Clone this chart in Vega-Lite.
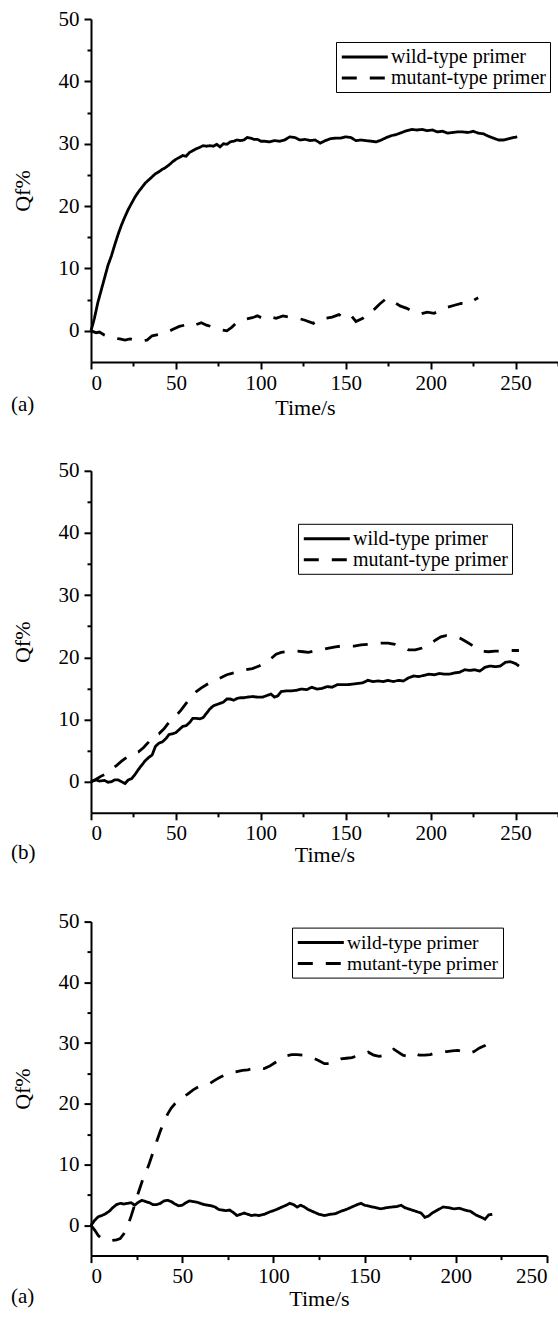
{
"$schema": "https://vega.github.io/schema/vega-lite/v6.json",
"background": "white",
"padding": {"left": 11, "top": 8, "right": 0, "bottom": 0},
"spacing": 108.8,
"bounds": "flush",
"resolve": {"scale": {"strokeDash": "independent", "x": "independent", "y": "independent"}, "legend": {"strokeDash": "independent"}},
"datasets": {
"p1": [
{"t":0,"q":0,"s":"W"},{"t":2,"q":2,"s":"W"},{"t":4,"q":4.5,"s":"W"},{"t":6,"q":6.5,"s":"W"},{"t":8,"q":8.5,"s":"W"},{"t":10,"q":10.5,"s":"W"},{"t":12,"q":12,"s":"W"},{"t":14,"q":13.8,"s":"W"},{"t":16,"q":15.5,"s":"W"},{"t":18,"q":17,"s":"W"},{"t":20,"q":18.3,"s":"W"},{"t":22,"q":19.5,"s":"W"},{"t":24,"q":20.5,"s":"W"},{"t":26,"q":21.5,"s":"W"},{"t":28,"q":22.3,"s":"W"},{"t":30,"q":23,"s":"W"},{"t":32,"q":23.7,"s":"W"},{"t":34,"q":24.2,"s":"W"},{"t":36,"q":24.7,"s":"W"},{"t":38,"q":25.2,"s":"W"},{"t":40,"q":25.5,"s":"W"},{"t":42,"q":25.9,"s":"W"},{"t":44,"q":26.2,"s":"W"},{"t":46,"q":26.6,"s":"W"},{"t":48,"q":27.1,"s":"W"},{"t":50,"q":27.5,"s":"W"},{"t":52,"q":27.8,"s":"W"},{"t":54,"q":28.1,"s":"W"},{"t":56,"q":28,"s":"W"},{"t":58,"q":28.6,"s":"W"},{"t":60,"q":28.9,"s":"W"},{"t":62,"q":29.2,"s":"W"},{"t":64,"q":29.4,"s":"W"},{"t":66,"q":29.7,"s":"W"},{"t":68,"q":29.6,"s":"W"},{"t":70,"q":29.7,"s":"W"},{"t":72,"q":29.6,"s":"W"},{"t":74,"q":29.9,"s":"W"},{"t":76,"q":29.5,"s":"W"},{"t":78,"q":30,"s":"W"},{"t":80,"q":29.9,"s":"W"},{"t":82,"q":30.3,"s":"W"},{"t":84,"q":30.4,"s":"W"},{"t":86,"q":30.6,"s":"W"},{"t":88,"q":30.5,"s":"W"},{"t":90,"q":30.6,"s":"W"},{"t":92,"q":31,"s":"W"},{"t":94,"q":30.9,"s":"W"},{"t":96,"q":30.7,"s":"W"},{"t":98,"q":30.7,"s":"W"},{"t":100,"q":30.4,"s":"W"},{"t":102,"q":30.4,"s":"W"},{"t":105,"q":30.3,"s":"W"},{"t":108,"q":30.5,"s":"W"},{"t":111,"q":30.4,"s":"W"},{"t":114,"q":30.6,"s":"W"},{"t":117,"q":31.1,"s":"W"},{"t":120,"q":31,"s":"W"},{"t":123,"q":30.6,"s":"W"},{"t":126,"q":30.7,"s":"W"},{"t":129,"q":30.5,"s":"W"},{"t":132,"q":30.6,"s":"W"},{"t":135,"q":30.1,"s":"W"},{"t":138,"q":30.5,"s":"W"},{"t":141,"q":30.8,"s":"W"},{"t":144,"q":30.9,"s":"W"},{"t":147,"q":30.9,"s":"W"},{"t":150,"q":31.1,"s":"W"},{"t":153,"q":31,"s":"W"},{"t":156,"q":30.5,"s":"W"},{"t":159,"q":30.6,"s":"W"},{"t":162,"q":30.5,"s":"W"},{"t":165,"q":30.4,"s":"W"},{"t":168,"q":30.3,"s":"W"},{"t":171,"q":30.6,"s":"W"},{"t":174,"q":31,"s":"W"},{"t":177,"q":31.3,"s":"W"},{"t":180,"q":31.5,"s":"W"},{"t":183,"q":31.8,"s":"W"},{"t":186,"q":32.1,"s":"W"},{"t":189,"q":32.3,"s":"W"},{"t":192,"q":32.2,"s":"W"},{"t":195,"q":32.3,"s":"W"},{"t":198,"q":32.1,"s":"W"},{"t":201,"q":32.2,"s":"W"},{"t":204,"q":31.9,"s":"W"},{"t":207,"q":32,"s":"W"},{"t":210,"q":31.7,"s":"W"},{"t":213,"q":31.8,"s":"W"},{"t":216,"q":31.9,"s":"W"},{"t":219,"q":31.9,"s":"W"},{"t":222,"q":31.8,"s":"W"},{"t":225,"q":32,"s":"W"},{"t":228,"q":31.7,"s":"W"},{"t":231,"q":31.6,"s":"W"},{"t":234,"q":31.2,"s":"W"},{"t":237,"q":30.9,"s":"W"},{"t":240,"q":30.6,"s":"W"},{"t":243,"q":30.6,"s":"W"},{"t":246,"q":30.8,"s":"W"},{"t":249,"q":31,"s":"W"},{"t":251,"q":31.1,"s":"W"},
{"t":0,"q":0,"s":"M"},{"t":3,"q":-0.3,"s":"M"},{"t":5,"q":-0.2,"s":"M"},{"t":8,"q":-0.7,"s":"M"},{"t":12,"q":-1.1,"s":"M"},{"t":17,"q":-1.3,"s":"M"},{"t":20,"q":-1.5,"s":"M"},{"t":23,"q":-1.3,"s":"M"},{"t":26,"q":-1.5,"s":"M"},{"t":30,"q":-1.6,"s":"M"},{"t":33,"q":-1.5,"s":"M"},{"t":36,"q":-0.8,"s":"M"},{"t":40,"q":-0.6,"s":"M"},{"t":44,"q":-0.3,"s":"M"},{"t":48,"q":0.2,"s":"M"},{"t":52,"q":0.7,"s":"M"},{"t":55,"q":0.9,"s":"M"},{"t":58,"q":0.6,"s":"M"},{"t":62,"q":1.0,"s":"M"},{"t":65,"q":1.3,"s":"M"},{"t":68,"q":0.9,"s":"M"},{"t":72,"q":0.6,"s":"M"},{"t":76,"q":0.2,"s":"M"},{"t":80,"q":0.0,"s":"M"},{"t":83,"q":0.6,"s":"M"},{"t":86,"q":1.4,"s":"M"},{"t":90,"q":1.8,"s":"M"},{"t":95,"q":2.1,"s":"M"},{"t":98,"q":2.4,"s":"M"},{"t":101,"q":2.0,"s":"M"},{"t":105,"q":2.3,"s":"M"},{"t":109,"q":2.0,"s":"M"},{"t":113,"q":2.4,"s":"M"},{"t":118,"q":2.1,"s":"M"},{"t":122,"q":2.0,"s":"M"},{"t":126,"q":1.7,"s":"M"},{"t":131,"q":1.2,"s":"M"},{"t":134,"q":1.8,"s":"M"},{"t":138,"q":2.0,"s":"M"},{"t":142,"q":2.2,"s":"M"},{"t":146,"q":2.6,"s":"M"},{"t":149,"q":2.1,"s":"M"},{"t":153,"q":2.5,"s":"M"},{"t":156,"q":1.5,"s":"M"},{"t":160,"q":2.0,"s":"M"},{"t":163,"q":3.0,"s":"M"},{"t":167,"q":3.5,"s":"M"},{"t":170,"q":4.3,"s":"M"},{"t":174,"q":5.2,"s":"M"},{"t":178,"q":4.7,"s":"M"},{"t":182,"q":4.0,"s":"M"},{"t":186,"q":3.6,"s":"M"},{"t":190,"q":3.0,"s":"M"},{"t":194,"q":2.7,"s":"M"},{"t":198,"q":3.0,"s":"M"},{"t":202,"q":2.8,"s":"M"},{"t":206,"q":3.3,"s":"M"},{"t":210,"q":3.8,"s":"M"},{"t":214,"q":4.1,"s":"M"},{"t":218,"q":4.4,"s":"M"},{"t":222,"q":4.3,"s":"M"},{"t":226,"q":5.0,"s":"M"},{"t":228,"q":5.3,"s":"M"}
],
"p2": [
{"t":0,"q":0,"s":"W"},{"t":3,"q":0.3,"s":"W"},{"t":5,"q":0.1,"s":"W"},{"t":8,"q":0.2,"s":"W"},{"t":10,"q":-0.1,"s":"W"},{"t":12,"q":0.0,"s":"W"},{"t":14,"q":0.3,"s":"W"},{"t":16,"q":0.3,"s":"W"},{"t":18,"q":0.0,"s":"W"},{"t":20,"q":-0.3,"s":"W"},{"t":22,"q":0.3,"s":"W"},{"t":24,"q":0.5,"s":"W"},{"t":26,"q":1.2,"s":"W"},{"t":28,"q":2.0,"s":"W"},{"t":30,"q":2.7,"s":"W"},{"t":32,"q":3.4,"s":"W"},{"t":34,"q":3.9,"s":"W"},{"t":36,"q":4.3,"s":"W"},{"t":38,"q":5.7,"s":"W"},{"t":40,"q":6.2,"s":"W"},{"t":42,"q":6.4,"s":"W"},{"t":44,"q":6.9,"s":"W"},{"t":46,"q":7.6,"s":"W"},{"t":48,"q":7.7,"s":"W"},{"t":50,"q":7.9,"s":"W"},{"t":52,"q":8.4,"s":"W"},{"t":54,"q":8.9,"s":"W"},{"t":56,"q":9.0,"s":"W"},{"t":58,"q":9.5,"s":"W"},{"t":60,"q":10.2,"s":"W"},{"t":62,"q":10.2,"s":"W"},{"t":64,"q":10.1,"s":"W"},{"t":66,"q":10.3,"s":"W"},{"t":68,"q":11.0,"s":"W"},{"t":70,"q":11.7,"s":"W"},{"t":72,"q":12.2,"s":"W"},{"t":74,"q":12.4,"s":"W"},{"t":76,"q":12.6,"s":"W"},{"t":78,"q":12.8,"s":"W"},{"t":80,"q":13.3,"s":"W"},{"t":82,"q":13.3,"s":"W"},{"t":84,"q":13.1,"s":"W"},{"t":86,"q":13.4,"s":"W"},{"t":88,"q":13.5,"s":"W"},{"t":90,"q":13.5,"s":"W"},{"t":92,"q":13.6,"s":"W"},{"t":95,"q":13.7,"s":"W"},{"t":98,"q":13.6,"s":"W"},{"t":101,"q":13.6,"s":"W"},{"t":104,"q":13.9,"s":"W"},{"t":106,"q":14.1,"s":"W"},{"t":108,"q":13.6,"s":"W"},{"t":110,"q":13.8,"s":"W"},{"t":112,"q":14.5,"s":"W"},{"t":115,"q":14.6,"s":"W"},{"t":118,"q":14.6,"s":"W"},{"t":121,"q":14.7,"s":"W"},{"t":124,"q":14.9,"s":"W"},{"t":127,"q":14.8,"s":"W"},{"t":130,"q":15.2,"s":"W"},{"t":133,"q":14.9,"s":"W"},{"t":136,"q":15.0,"s":"W"},{"t":139,"q":15.3,"s":"W"},{"t":142,"q":15.2,"s":"W"},{"t":145,"q":15.6,"s":"W"},{"t":148,"q":15.6,"s":"W"},{"t":151,"q":15.6,"s":"W"},{"t":154,"q":15.7,"s":"W"},{"t":157,"q":15.8,"s":"W"},{"t":160,"q":15.9,"s":"W"},{"t":163,"q":16.3,"s":"W"},{"t":166,"q":16.1,"s":"W"},{"t":169,"q":16.2,"s":"W"},{"t":172,"q":16.1,"s":"W"},{"t":175,"q":16.3,"s":"W"},{"t":178,"q":16.1,"s":"W"},{"t":181,"q":16.3,"s":"W"},{"t":184,"q":16.2,"s":"W"},{"t":187,"q":16.7,"s":"W"},{"t":190,"q":17.0,"s":"W"},{"t":193,"q":16.9,"s":"W"},{"t":196,"q":17.1,"s":"W"},{"t":199,"q":17.3,"s":"W"},{"t":202,"q":17.2,"s":"W"},{"t":205,"q":17.4,"s":"W"},{"t":208,"q":17.3,"s":"W"},{"t":211,"q":17.3,"s":"W"},{"t":214,"q":17.5,"s":"W"},{"t":217,"q":17.6,"s":"W"},{"t":220,"q":18.0,"s":"W"},{"t":223,"q":17.9,"s":"W"},{"t":226,"q":18.0,"s":"W"},{"t":229,"q":17.8,"s":"W"},{"t":232,"q":18.4,"s":"W"},{"t":235,"q":18.6,"s":"W"},{"t":238,"q":18.5,"s":"W"},{"t":241,"q":18.6,"s":"W"},{"t":244,"q":19.2,"s":"W"},{"t":247,"q":19.3,"s":"W"},{"t":250,"q":19.0,"s":"W"},{"t":252,"q":18.6,"s":"W"},
{"t":0,"q":0,"s":"M"},{"t":3,"q":0.4,"s":"M"},{"t":6,"q":0.9,"s":"M"},{"t":9,"q":1.3,"s":"M"},{"t":12,"q":2.0,"s":"M"},{"t":15,"q":2.6,"s":"M"},{"t":18,"q":3.3,"s":"M"},{"t":20,"q":3.7,"s":"M"},{"t":23,"q":4.3,"s":"M"},{"t":26,"q":4.6,"s":"M"},{"t":28,"q":4.8,"s":"M"},{"t":31,"q":5.5,"s":"M"},{"t":34,"q":6.4,"s":"M"},{"t":37,"q":7.4,"s":"M"},{"t":40,"q":7.7,"s":"M"},{"t":43,"q":8.5,"s":"M"},{"t":46,"q":9.6,"s":"M"},{"t":50,"q":10.6,"s":"M"},{"t":53,"q":11.5,"s":"M"},{"t":56,"q":12.6,"s":"M"},{"t":59,"q":13.6,"s":"M"},{"t":62,"q":14.5,"s":"M"},{"t":65,"q":15.1,"s":"M"},{"t":68,"q":15.6,"s":"M"},{"t":71,"q":16.1,"s":"M"},{"t":74,"q":16.4,"s":"M"},{"t":77,"q":16.8,"s":"M"},{"t":80,"q":17.2,"s":"M"},{"t":84,"q":17.5,"s":"M"},{"t":88,"q":17.8,"s":"M"},{"t":91,"q":18.0,"s":"M"},{"t":95,"q":18.2,"s":"M"},{"t":99,"q":18.6,"s":"M"},{"t":103,"q":19.2,"s":"M"},{"t":106,"q":19.8,"s":"M"},{"t":109,"q":20.5,"s":"M"},{"t":112,"q":20.8,"s":"M"},{"t":115,"q":20.9,"s":"M"},{"t":118,"q":20.9,"s":"M"},{"t":121,"q":21.0,"s":"M"},{"t":125,"q":20.9,"s":"M"},{"t":128,"q":20.8,"s":"M"},{"t":131,"q":21.0,"s":"M"},{"t":134,"q":21.2,"s":"M"},{"t":137,"q":21.3,"s":"M"},{"t":140,"q":21.5,"s":"M"},{"t":144,"q":21.7,"s":"M"},{"t":147,"q":21.8,"s":"M"},{"t":151,"q":21.8,"s":"M"},{"t":155,"q":21.8,"s":"M"},{"t":159,"q":22.0,"s":"M"},{"t":163,"q":22.1,"s":"M"},{"t":167,"q":22.2,"s":"M"},{"t":171,"q":22.3,"s":"M"},{"t":175,"q":22.3,"s":"M"},{"t":179,"q":22.1,"s":"M"},{"t":183,"q":21.7,"s":"M"},{"t":187,"q":21.2,"s":"M"},{"t":191,"q":21.2,"s":"M"},{"t":195,"q":21.5,"s":"M"},{"t":199,"q":22.0,"s":"M"},{"t":203,"q":22.8,"s":"M"},{"t":206,"q":23.3,"s":"M"},{"t":209,"q":23.5,"s":"M"},{"t":212,"q":23.4,"s":"M"},{"t":215,"q":23.3,"s":"M"},{"t":218,"q":23.0,"s":"M"},{"t":221,"q":22.5,"s":"M"},{"t":224,"q":22.0,"s":"M"},{"t":227,"q":21.3,"s":"M"},{"t":230,"q":21.0,"s":"M"},{"t":234,"q":20.9,"s":"M"},{"t":238,"q":21.0,"s":"M"},{"t":242,"q":21.0,"s":"M"},{"t":246,"q":21.1,"s":"M"},{"t":250,"q":21.1,"s":"M"},{"t":252,"q":21.1,"s":"M"}
],
"p3": [
{"t":0,"q":0,"s":"W"},{"t":2,"q":0.8,"s":"W"},{"t":4,"q":1.4,"s":"W"},{"t":6,"q":1.6,"s":"W"},{"t":8,"q":1.9,"s":"W"},{"t":10,"q":2.3,"s":"W"},{"t":12,"q":2.9,"s":"W"},{"t":14,"q":3.4,"s":"W"},{"t":16,"q":3.6,"s":"W"},{"t":18,"q":3.5,"s":"W"},{"t":20,"q":3.6,"s":"W"},{"t":22,"q":3.7,"s":"W"},{"t":24,"q":3.3,"s":"W"},{"t":26,"q":3.8,"s":"W"},{"t":28,"q":4.1,"s":"W"},{"t":30,"q":3.9,"s":"W"},{"t":32,"q":3.7,"s":"W"},{"t":34,"q":3.4,"s":"W"},{"t":36,"q":3.4,"s":"W"},{"t":38,"q":3.6,"s":"W"},{"t":40,"q":4.0,"s":"W"},{"t":42,"q":4.1,"s":"W"},{"t":44,"q":3.9,"s":"W"},{"t":46,"q":3.5,"s":"W"},{"t":48,"q":3.2,"s":"W"},{"t":50,"q":3.3,"s":"W"},{"t":52,"q":3.7,"s":"W"},{"t":54,"q":4.0,"s":"W"},{"t":56,"q":3.9,"s":"W"},{"t":58,"q":3.8,"s":"W"},{"t":60,"q":3.6,"s":"W"},{"t":62,"q":3.4,"s":"W"},{"t":64,"q":3.3,"s":"W"},{"t":66,"q":3.2,"s":"W"},{"t":68,"q":3.0,"s":"W"},{"t":70,"q":2.6,"s":"W"},{"t":72,"q":2.5,"s":"W"},{"t":74,"q":2.4,"s":"W"},{"t":76,"q":2.5,"s":"W"},{"t":78,"q":2.1,"s":"W"},{"t":80,"q":1.6,"s":"W"},{"t":82,"q":1.8,"s":"W"},{"t":84,"q":2.0,"s":"W"},{"t":86,"q":1.8,"s":"W"},{"t":88,"q":1.6,"s":"W"},{"t":90,"q":1.7,"s":"W"},{"t":92,"q":1.6,"s":"W"},{"t":95,"q":1.8,"s":"W"},{"t":98,"q":2.2,"s":"W"},{"t":101,"q":2.5,"s":"W"},{"t":104,"q":2.9,"s":"W"},{"t":107,"q":3.3,"s":"W"},{"t":109,"q":3.6,"s":"W"},{"t":111,"q":3.4,"s":"W"},{"t":113,"q":3.0,"s":"W"},{"t":115,"q":3.3,"s":"W"},{"t":117,"q":3.0,"s":"W"},{"t":119,"q":2.6,"s":"W"},{"t":122,"q":2.2,"s":"W"},{"t":125,"q":1.8,"s":"W"},{"t":128,"q":1.6,"s":"W"},{"t":131,"q":1.8,"s":"W"},{"t":134,"q":1.9,"s":"W"},{"t":137,"q":2.3,"s":"W"},{"t":140,"q":2.6,"s":"W"},{"t":143,"q":3.0,"s":"W"},{"t":146,"q":3.4,"s":"W"},{"t":148,"q":3.6,"s":"W"},{"t":150,"q":3.3,"s":"W"},{"t":153,"q":3.1,"s":"W"},{"t":156,"q":2.9,"s":"W"},{"t":159,"q":2.7,"s":"W"},{"t":162,"q":2.9,"s":"W"},{"t":165,"q":3.0,"s":"W"},{"t":168,"q":3.1,"s":"W"},{"t":170,"q":3.3,"s":"W"},{"t":172,"q":2.9,"s":"W"},{"t":175,"q":2.6,"s":"W"},{"t":178,"q":2.3,"s":"W"},{"t":181,"q":2.0,"s":"W"},{"t":183,"q":1.3,"s":"W"},{"t":185,"q":1.5,"s":"W"},{"t":187,"q":2.0,"s":"W"},{"t":190,"q":2.5,"s":"W"},{"t":193,"q":3.0,"s":"W"},{"t":196,"q":2.9,"s":"W"},{"t":199,"q":2.7,"s":"W"},{"t":202,"q":2.8,"s":"W"},{"t":205,"q":2.5,"s":"W"},{"t":208,"q":2.3,"s":"W"},{"t":211,"q":1.7,"s":"W"},{"t":214,"q":1.3,"s":"W"},{"t":216,"q":1.0,"s":"W"},{"t":218,"q":1.7,"s":"W"},{"t":220,"q":1.8,"s":"W"},
{"t":0,"q":0,"s":"M"},{"t":2,"q":-0.8,"s":"M"},{"t":4,"q":-1.7,"s":"M"},{"t":6,"q":-2.2,"s":"M"},{"t":8,"q":-2.4,"s":"M"},{"t":11,"q":-2.5,"s":"M"},{"t":14,"q":-2.4,"s":"M"},{"t":16,"q":-2.2,"s":"M"},{"t":18,"q":-1.4,"s":"M"},{"t":20,"q":-0.2,"s":"M"},{"t":22,"q":1.5,"s":"M"},{"t":24,"q":3.4,"s":"M"},{"t":26,"q":5.4,"s":"M"},{"t":28,"q":7.2,"s":"M"},{"t":30,"q":8.6,"s":"M"},{"t":32,"q":10.2,"s":"M"},{"t":34,"q":12.0,"s":"M"},{"t":36,"q":13.8,"s":"M"},{"t":38,"q":15.5,"s":"M"},{"t":40,"q":17.0,"s":"M"},{"t":42,"q":18.3,"s":"M"},{"t":44,"q":19.3,"s":"M"},{"t":46,"q":20.0,"s":"M"},{"t":48,"q":20.5,"s":"M"},{"t":50,"q":21.0,"s":"M"},{"t":53,"q":21.6,"s":"M"},{"t":56,"q":22.3,"s":"M"},{"t":59,"q":22.8,"s":"M"},{"t":62,"q":23.0,"s":"M"},{"t":65,"q":23.3,"s":"M"},{"t":68,"q":23.9,"s":"M"},{"t":71,"q":24.4,"s":"M"},{"t":74,"q":24.8,"s":"M"},{"t":77,"q":25.2,"s":"M"},{"t":80,"q":25.3,"s":"M"},{"t":83,"q":25.5,"s":"M"},{"t":86,"q":25.6,"s":"M"},{"t":89,"q":25.8,"s":"M"},{"t":92,"q":26.0,"s":"M"},{"t":95,"q":25.8,"s":"M"},{"t":98,"q":26.2,"s":"M"},{"t":101,"q":26.8,"s":"M"},{"t":104,"q":27.3,"s":"M"},{"t":107,"q":27.9,"s":"M"},{"t":110,"q":28.1,"s":"M"},{"t":113,"q":28.1,"s":"M"},{"t":116,"q":28.0,"s":"M"},{"t":119,"q":27.8,"s":"M"},{"t":122,"q":27.5,"s":"M"},{"t":125,"q":27.1,"s":"M"},{"t":128,"q":26.6,"s":"M"},{"t":131,"q":26.6,"s":"M"},{"t":134,"q":27.1,"s":"M"},{"t":137,"q":27.4,"s":"M"},{"t":140,"q":27.5,"s":"M"},{"t":143,"q":27.6,"s":"M"},{"t":146,"q":27.9,"s":"M"},{"t":149,"q":28.1,"s":"M"},{"t":152,"q":28.5,"s":"M"},{"t":155,"q":28.0,"s":"M"},{"t":158,"q":27.8,"s":"M"},{"t":161,"q":28.0,"s":"M"},{"t":164,"q":28.5,"s":"M"},{"t":166,"q":29.0,"s":"M"},{"t":168,"q":28.6,"s":"M"},{"t":171,"q":28.0,"s":"M"},{"t":174,"q":27.8,"s":"M"},{"t":177,"q":28.3,"s":"M"},{"t":180,"q":28.0,"s":"M"},{"t":183,"q":28.0,"s":"M"},{"t":186,"q":28.1,"s":"M"},{"t":189,"q":28.4,"s":"M"},{"t":192,"q":28.5,"s":"M"},{"t":195,"q":28.6,"s":"M"},{"t":198,"q":28.7,"s":"M"},{"t":201,"q":28.8,"s":"M"},{"t":204,"q":28.6,"s":"M"},{"t":207,"q":28.3,"s":"M"},{"t":210,"q":28.6,"s":"M"},{"t":213,"q":29.2,"s":"M"},{"t":216,"q":29.6,"s":"M"},{"t":218,"q":30.0,"s":"M"},{"t":220,"q":30.2,"s":"M"}
]
},
"vconcat": [
{
"width": 467, "height": 343,
"data": {"name": "p1"},
"title": {"text": "(a)", "orient": "bottom", "anchor": "start", "frame": "bounds", "offset": -24},
"mark": {"type": "line", "color": "black", "strokeWidth": 2.8},
"encoding": {
"x": {"field": "t", "type": "quantitative", "scale": {"domain": [0, 275], "nice": false, "zero": false},
 "axis": {"title": "Time/s", "titleX": 214, "titlePadding": 4, "values": [0,25,50,75,100,125,150,175,200,225,250,275], "labelExpr": "datum.value % 50 === 0 ? datum.label : ''", "tickSize": {"condition": {"test": "datum.value % 50 === 0", "value": 7}, "value": 4}, "labelPadding": 3}},
"y": {"field": "q", "type": "quantitative", "scale": {"domain": [-5, 50], "nice": false, "zero": false},
 "axis": {"title": "Qf%", "titlePadding": 24, "values": [0,5,10,15,20,25,30,35,40,45,50], "labelExpr": "datum.value % 10 === 0 ? datum.label : ''", "tickSize": {"condition": {"test": "datum.value % 10 === 0", "value": 7}, "value": 4}, "labelPadding": 5}},
"strokeDash": {"field": "s", "type": "nominal", "scale": {"domain": ["W", "M"], "range": [[1, 0], [15, 13]]},
 "legend": {"title": null, "orient": "none", "legendX": 245, "legendY": 23, "labelExpr": "datum.value === 'W' ? 'wild-type primer' : 'mutant-type primer'", "labelFontSize": 20,
  "encode": {"symbols": {"update": {"strokeDash": {"signal": "datum.value === 'W' ? [1,0] : [13,20]"}, "fill": {"value": "transparent"}}}}}}
}
},
{
"width": 467, "height": 342,
"data": {"name": "p2"},
"title": {"text": "(b)", "orient": "bottom", "anchor": "start", "frame": "bounds", "offset": -24},
"mark": {"type": "line", "color": "black", "strokeWidth": 2.8},
"encoding": {
"x": {"field": "t", "type": "quantitative", "scale": {"domain": [0, 275], "nice": false, "zero": false},
 "axis": {"title": "Time/s", "titlePadding": 1, "values": [0,25,50,75,100,125,150,175,200,225,250,275], "labelExpr": "datum.value % 50 === 0 ? datum.label : ''", "tickSize": {"condition": {"test": "datum.value % 50 === 0", "value": 7}, "value": 4}, "labelPadding": 3}},
"y": {"field": "q", "type": "quantitative", "scale": {"domain": [-5, 50], "nice": false, "zero": false},
 "axis": {"title": "Qf%", "titlePadding": 24, "values": [0,5,10,15,20,25,30,35,40,45,50], "labelExpr": "datum.value % 10 === 0 ? datum.label : ''", "tickSize": {"condition": {"test": "datum.value % 10 === 0", "value": 7}, "value": 4}, "labelPadding": 5}},
"strokeDash": {"field": "s", "type": "nominal", "scale": {"domain": ["W", "M"], "range": [[1, 0], [15, 13]]},
 "legend": {"title": null, "orient": "none", "legendX": 207, "legendY": 53, "labelExpr": "datum.value === 'W' ? 'wild-type primer' : 'mutant-type primer'", "labelFontSize": 20,
  "encode": {"symbols": {"update": {"strokeDash": {"signal": "datum.value === 'W' ? [1,0] : [13,20]"}, "fill": {"value": "transparent"}}}}}}
}
},
{
"width": 456, "height": 334,
"data": {"name": "p3"},
"title": {"text": "(a)", "orient": "bottom", "anchor": "start", "frame": "bounds", "offset": -24},
"mark": {"type": "line", "color": "black", "strokeWidth": 2.8},
"encoding": {
"x": {"field": "t", "type": "quantitative", "scale": {"domain": [0, 250], "nice": false, "zero": false},
 "axis": {"title": "Time/s", "titlePadding": 2, "values": [0,25,50,75,100,125,150,175,200,225,250], "labelExpr": "datum.value % 50 === 0 ? datum.label : ''", "tickSize": {"condition": {"test": "datum.value % 50 === 0", "value": 7}, "value": 4}, "labelPadding": 3}},
"y": {"field": "q", "type": "quantitative", "scale": {"domain": [-5, 50], "nice": false, "zero": false},
 "axis": {"title": "Qf%", "titlePadding": 24, "values": [0,5,10,15,20,25,30,35,40,45,50], "labelExpr": "datum.value % 10 === 0 ? datum.label : ''", "tickSize": {"condition": {"test": "datum.value % 10 === 0", "value": 7}, "value": 4}, "labelPadding": 5}},
"strokeDash": {"field": "s", "type": "nominal", "scale": {"domain": ["W", "M"], "range": [[1, 0], [15, 13]]},
 "legend": {"title": null, "orient": "none", "legendX": 201, "legendY": 6, "labelExpr": "datum.value === 'W' ? 'wild-type primer' : 'mutant-type primer'", "labelFontSize": 19.5,
  "encode": {"symbols": {"update": {"strokeDash": {"signal": "datum.value === 'W' ? [1,0] : [13,20]"}, "fill": {"value": "transparent"}}}}}}
}
}
],
"config": {
"font": "Liberation Serif",
"view": {"stroke": null},
"axis": {"domainColor": "black", "domainWidth": 2, "tickColor": "black", "tickWidth": 2, "grid": false,
 "labelFont": "Liberation Serif", "labelFontSize": 21, "labelColor": "black",
 "titleFont": "Liberation Serif", "titleFontSize": 22, "titleFontWeight": "normal", "titleColor": "black"},
"legend": {"strokeColor": "black", "fillColor": "white", "padding": 4, "labelFont": "Liberation Serif", "labelColor": "black", "labelOffset": 29,
 "symbolType": "M-1,0H4", "symbolSize": 339, "symbolStrokeWidth": 3, "symbolStrokeColor": "black", "symbolFillColor": "transparent", "rowPadding": 0, "labelLimit": 300},
"title": {"font": "Liberation Serif", "fontSize": 21, "fontWeight": "normal", "color": "black"}
}
}
